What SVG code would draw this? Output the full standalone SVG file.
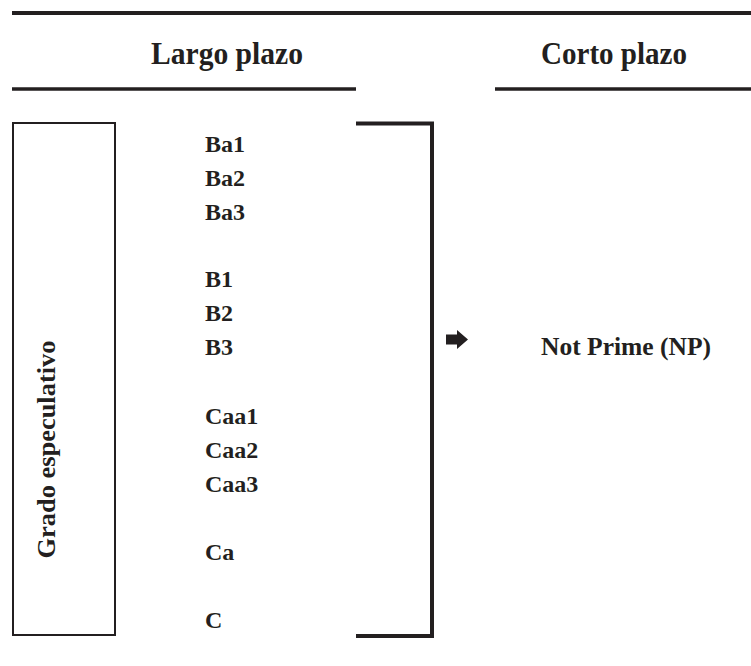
<svg xmlns="http://www.w3.org/2000/svg" width="751" height="666" viewBox="0 0 751 666">
<style>
.t{font-family:"Liberation Serif","Times New Roman",serif;font-weight:bold;fill:#231f20}
.h{font-size:32px}
.i{font-size:24px}
.ln{stroke:#231f20;fill:none}
</style>
<rect width="751" height="666" fill="#ffffff"/>
<g id="header">
<line class="ln" x1="12" y1="13" x2="751" y2="13" stroke-width="4"/>
<text class="t h" x="151" y="64" textLength="152" lengthAdjust="spacingAndGlyphs">Largo plazo</text>
<text class="t h" x="541" y="64" textLength="146" lengthAdjust="spacingAndGlyphs">Corto plazo</text>
<line class="ln" x1="12" y1="89" x2="356" y2="89" stroke-width="3.5"/>
<line class="ln" x1="495" y1="89" x2="751" y2="89" stroke-width="3.5"/>
</g>
<g id="grado">
<rect class="ln" x="13" y="123" width="102" height="512" stroke-width="2"/>
<text class="t" font-size="26" transform="translate(55,449.5) rotate(-90)" text-anchor="middle" textLength="218" lengthAdjust="spacingAndGlyphs">Grado especulativo</text>
</g>
<g id="ratings">
<text class="t i" x="205" y="152">Ba1</text>
<text class="t i" x="205" y="186">Ba2</text>
<text class="t i" x="205" y="220">Ba3</text>
<text class="t i" x="205" y="287">B1</text>
<text class="t i" x="205" y="321">B2</text>
<text class="t i" x="205" y="355">B3</text>
<text class="t i" x="205" y="424">Caa1</text>
<text class="t i" x="205" y="458">Caa2</text>
<text class="t i" x="205" y="492">Caa3</text>
<text class="t i" x="205" y="560">Ca</text>
<text class="t i" x="205" y="628">C</text>
</g>
<g id="connectors">
<path class="ln" d="M356 123.5 H432 V636 H356" stroke-width="4" stroke-linejoin="miter"/>
<polygon points="446,334.5 457,334.5 457,330 468,339.5 457,349 457,344.5 446,344.5" fill="#231f20"/>
</g>
<g id="np">
<text class="t" font-size="25" x="541" y="355" textLength="170" lengthAdjust="spacingAndGlyphs">Not Prime (NP)</text>
</g>
</svg>
